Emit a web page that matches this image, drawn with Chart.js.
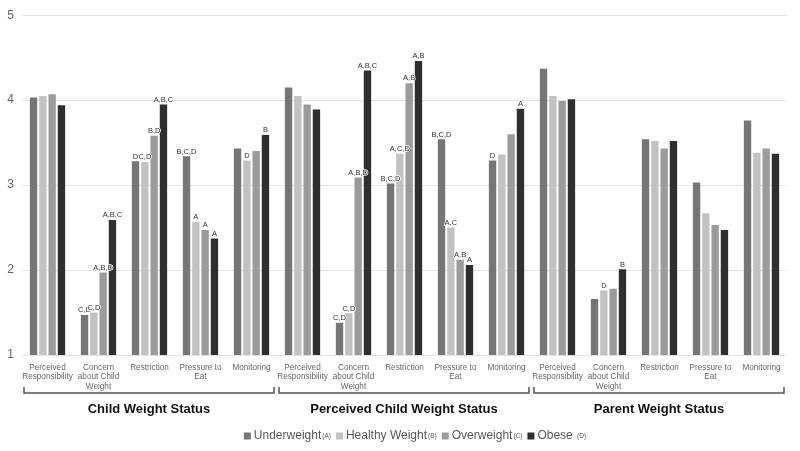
<!DOCTYPE html>
<html>
<head>
<meta charset="utf-8">
<script src="https://cdn.jsdelivr.net/npm/chart.js@4"></script>
<style>
  html, body { margin: 0; padding: 0; background: #ffffff; }
  #wrap { width: 800px; height: 451px; position: relative; }
</style>
</head>
<body>
<div id="wrap"><canvas id="chart" width="800" height="451"></canvas></div>
<script>
// categories (5 per group, 3 groups)
const categories = [
    ["Perceived", "Responsibility"], ["Concern", "about Child", "Weight"], "Restriction", ["Pressure to", "Eat"], "Monitoring",
    ["Perceived", "Responsibility"], ["Concern", "about Child", "Weight"], "Restriction", ["Pressure to", "Eat"], "Monitoring",
    ["Perceived", "Responsibility"], ["Concern", "about Child", "Weight"], "Restriction", ["Pressure to", "Eat"], "Monitoring"
];
const groups = ["Child Weight Status", "Perceived Child Weight Status", "Parent Weight Status"];

const seriesNames = ["Underweight", "Healthy Weight", "Overweight", "Obese "];
const seriesTags = ["(A)", "(B)", "(C)", "(D)"];
const seriesColors = ["#767676", "#c2c2c2", "#9b9b9b", "#2f2f2f"];

const underweight = [4.03, 1.47, 3.28, 3.34, 3.43, 4.15, 1.38, 3.02, 3.54, 3.29, 4.37, 1.66, 3.54, 3.03, 3.76];
const healthy     = [4.05, 1.50, 3.27, 2.57, 3.29, 4.05, 1.49, 3.37, 2.50, 3.36, 4.05, 1.76, 3.52, 2.67, 3.38];
const overweight  = [4.07, 1.97, 3.58, 2.47, 3.40, 3.95, 3.09, 4.20, 2.12, 3.60, 3.99, 1.78, 3.43, 2.53, 3.43];
const obese       = [3.94, 2.59, 3.95, 2.37, 3.59, 3.89, 4.35, 4.46, 2.06, 3.90, 4.01, 2.01, 3.52, 2.47, 3.37];

// significance letters above bars
const underweightSig = ["", "C,D", "D", "B,C,D", "", "", "C,D", "B,C,D", "B,C,D", "D", "", "", "", "", ""];
const healthySig     = ["", "C,D", "C,D", "A", "D", "", "C,D", "A,C,D", "A,C", "", "", "D", "", "", ""];
const overweightSig  = ["", "A,B,D", "B,D", "A", "", "", "A,B,D", "A,B", "A,B", "", "", "", "", "", ""];
const obeseSig       = ["", "A,B,C", "A,B,C", "A", "B", "", "A,B,C", "A,B", "A", "A", "", "B", "", "", ""];

const yTicks = [1, 2, 3, 4, 5];

const FONT = "'Liberation Sans', Arial, sans-serif";
const allValues = [underweight, healthy, overweight, obese];
const allSig = [underweightSig, healthySig, overweightSig, obeseSig];

// Draw letters above bars
const sigLabels = {
    id: "sigLabels",
    afterDatasetsDraw(chart) {
        const ctx = chart.ctx;
        ctx.save();
        ctx.font = "7.5px " + FONT;
        ctx.textAlign = "center";
        ctx.textBaseline = "bottom";
        ctx.lineWidth = 1.5;
        ctx.strokeStyle = "#ffffff";
        ctx.lineJoin = "round";
        chart.data.datasets.forEach((ds, d) => {
            const meta = chart.getDatasetMeta(d);
            meta.data.forEach((bar, i) => {
                const txt = allSig[d][i];
                if (!txt) return;
                ctx.strokeText(txt, bar.x, bar.y - 1);
                ctx.fillStyle = "#333333";
                ctx.fillText(txt, bar.x, bar.y - 1);
            });
        });
        ctx.restore();
    }
};

// Brackets, group titles and legend under the axis
const groupBrackets = {
    id: "groupBrackets",
    afterDraw(chart) {
        const ctx = chart.ctx;
        const x = chart.scales.x;
        const half = (x.getPixelForValue(1) - x.getPixelForValue(0)) / 2;
        ctx.save();
        groups.forEach((g, k) => {
            const left = x.getPixelForValue(k * 5) - half + 2;
            const right = x.getPixelForValue(k * 5 + 4) + half - 3;
            ctx.strokeStyle = "#555555";
            ctx.lineWidth = 1.5;
            ctx.beginPath();
            ctx.moveTo(left, 387);
            ctx.lineTo(left, 393);
            ctx.lineTo(right, 393);
            ctx.lineTo(right, 387);
            ctx.stroke();
            ctx.fillStyle = "#111111";
            ctx.font = "bold 13px " + FONT;
            ctx.textAlign = "center";
            ctx.textBaseline = "middle";
            ctx.fillText(g, (left + right) / 2, 409);
        });

        // legend
        const big = "12px " + FONT;
        const small = "6.5px " + FONT;
        const box = 7, gapBox = 3, gapItem = 5;
        let widths = seriesNames.map((n, i) => {
            ctx.font = big;
            const w1 = ctx.measureText(n).width;
            ctx.font = small;
            const w2 = ctx.measureText(seriesTags[i]).width;
            return box + gapBox + w1 + 1 + w2;
        });
        const total = widths.reduce((a, b) => a + b, 0) + gapItem * (widths.length - 1);
        let cx = 415 - total / 2;
        const cy = 436;
        seriesNames.forEach((n, i) => {
            ctx.fillStyle = seriesColors[i];
            ctx.fillRect(cx, cy - box / 2, box, box);
            let tx = cx + box + gapBox;
            ctx.fillStyle = "#595959";
            ctx.font = big;
            ctx.textAlign = "left";
            ctx.textBaseline = "middle";
            ctx.fillText(n, tx, cy);
            tx += ctx.measureText(n).width + 1;
            ctx.font = small;
            ctx.fillText(seriesTags[i], tx, cy);
            cx += widths[i] + gapItem;
        });
        ctx.restore();
    }
};

new Chart(document.getElementById("chart"), {
    type: "bar",
    data: {
        labels: categories,
        datasets: seriesNames.map((n, i) => ({
            label: n + seriesTags[i],
            data: allValues[i],
            backgroundColor: seriesColors[i],
            categoryPercentage: 0.73,
            barPercentage: 0.79
        }))
    },
    options: {
        responsive: false,
        animation: false,
        layout: { padding: { top: 11, right: 13, left: 0, bottom: 0 } },
        plugins: {
            legend: { display: false },
            tooltip: { enabled: false }
        },
        scales: {
            x: {
                grid: { display: false },
                border: { display: false },
                ticks: {
                    color: "#666666",
                    font: { family: FONT, size: 8.2, lineHeight: 1.15 },
                    padding: 0,
                    maxRotation: 0,
                    autoSkip: false
                },
                afterFit(scale) { scale.height = 96; }
            },
            y: {
                min: 1,
                max: 5,
                afterBuildTicks(scale) { scale.ticks = yTicks.map(v => ({ value: v })); },
                grid: { color: "#e3e3e3", drawTicks: false },
                border: { display: false },
                ticks: {
                    color: "#666666",
                    font: { family: FONT, size: 12 },
                    padding: 8
                },
                afterFit(scale) { scale.width = 22; }
            }
        }
    },
    plugins: [sigLabels, groupBrackets]
});
</script>
</body>
</html>
